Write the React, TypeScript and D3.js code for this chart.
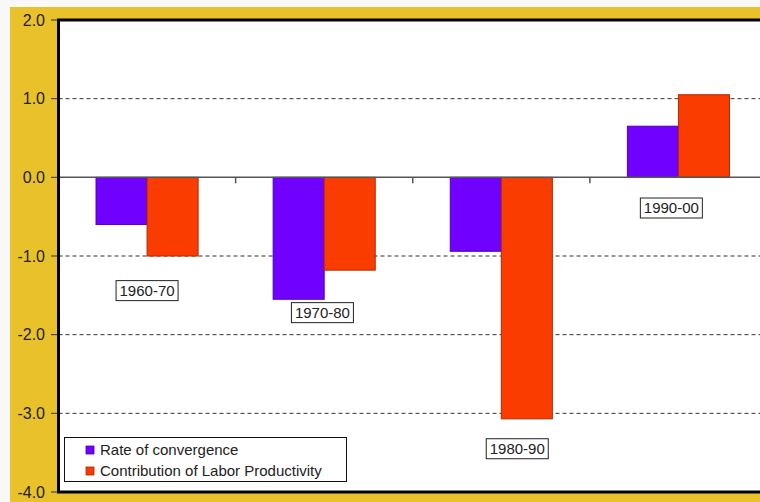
import React from 'react'
import * as d3 from 'd3'

// periods on the x axis
const periods = ['1960-70', '1970-80', '1980-90', '1990-00']
const seriesNames = ['Rate of convergence', 'Contribution of Labor Productivity']
const convergence = [-0.6, -1.55, -0.94, 0.65]
const laborProductivity = [-1.0, -1.18, -3.07, 1.05]
// where the period labels sit (value units) and their sideways nudge (share of a band)
const labelValues = [-1.44, -1.72, -3.45, -0.39]
const labelShift = [0.0, -0.01, 0.09, -0.04]
const yTicks = [2, 1, 0, -1, -2, -3, -4]

const colors = ['#7000FF', '#FA3C00']
const strokes = ['#5200B8', '#B02A00']
const font = 'Liberation Sans, Arial, sans-serif'

export default function App() {
  const width = 760
  const height = 502
  const left = 58.5
  const right = 767
  const top = 20
  const bottom = 492

  const y = d3.scaleLinear().domain([-4, 2]).range([bottom, top])
  const x0 = d3.scaleBand<string>().domain(periods).range([left, right])
  const x1 = d3
    .scaleBand<string>()
    .domain(seriesNames)
    .range([0, x0.bandwidth()])
    .paddingOuter(0.735)
  const values = [convergence, laborProductivity]

  return (
    <svg
      width={width}
      height={height}
      style={{ position: 'absolute', left: 0, top: 0, fontFamily: font }}
    >
      <rect width={width} height={height} fill="#F8F8F8" />
      <rect x={10} y={7} width={width - 10} height={height - 7} fill="#E8C12B" />
      <rect x={left} y={top} width={right - left} height={bottom - top} fill="#FFFFFF" />

      {/* grid lines */}
      {yTicks
        .filter(t => t !== 0 && t !== 2 && t !== -4)
        .map(t => (
          <line
            key={t}
            x1={left}
            x2={right}
            y1={y(t)}
            y2={y(t)}
            stroke="#333"
            strokeWidth={1}
            strokeDasharray="4,3"
          />
        ))}

      {/* bars */}
      {periods.map((p, i) =>
        seriesNames.map((s, j) => {
          const v = values[j][i]
          return (
            <rect
              key={p + s}
              x={(x0(p) as number) + (x1(s) as number)}
              y={y(Math.max(0, v))}
              width={x1.bandwidth()}
              height={Math.abs(y(v) - y(0))}
              fill={colors[j]}
              stroke={strokes[j]}
              strokeWidth={1}
            />
          )
        })
      )}

      {/* zero line and category ticks */}
      <line x1={left} x2={right} y1={y(0)} y2={y(0)} stroke="#555" strokeWidth={1.5} />
      {periods.slice(1).map(p => (
        <line
          key={p}
          x1={x0(p) as number}
          x2={x0(p) as number}
          y1={y(0)}
          y2={y(0) + 6}
          stroke="#555"
          strokeWidth={1.5}
        />
      ))}

      {/* period labels */}
      {periods.map((p, i) => {
        const cx = (x0(p) as number) + x0.bandwidth() * (0.5 + labelShift[i])
        const cy = y(labelValues[i])
        const w = 62
        const h = 20
        return (
          <g key={p}>
            <rect
              x={cx - w / 2}
              y={cy - h / 2}
              width={w}
              height={h}
              fill="#fff"
              stroke="#222"
              strokeWidth={1}
            />
            <text x={cx} y={cy + 5} textAnchor="middle" fontSize={15} fill="#222">
              {p}
            </text>
          </g>
        )
      })}

      {/* y axis */}
      {yTicks.map(t => (
        <g key={t}>
          <line x1={51} x2={left} y1={y(t)} y2={y(t)} stroke="#333" strokeWidth={1} />
          <text x={45} y={y(t) + 5.5} textAnchor="end" fontSize={16} fill="#222">
            {t.toFixed(1)}
          </text>
        </g>
      ))}

      {/* plot border */}
      <rect
        x={left}
        y={top}
        width={right - left}
        height={bottom - top}
        fill="none"
        stroke="#000"
        strokeWidth={3}
      />

      {/* legend */}
      <rect x={64.5} y={437.5} width={282} height={44} fill="#fff" stroke="#111" strokeWidth={1} />
      {seriesNames.map((s, j) => (
        <g key={s} transform={`translate(86, ${446 + j * 21})`}>
          <rect width={8} height={8} fill={colors[j]} stroke={strokes[j]} strokeWidth={0.8} />
          <text x={14} y={8.5} fontSize={15} fill="#222">
            {s}
          </text>
        </g>
      ))}
    </svg>
  )
}
